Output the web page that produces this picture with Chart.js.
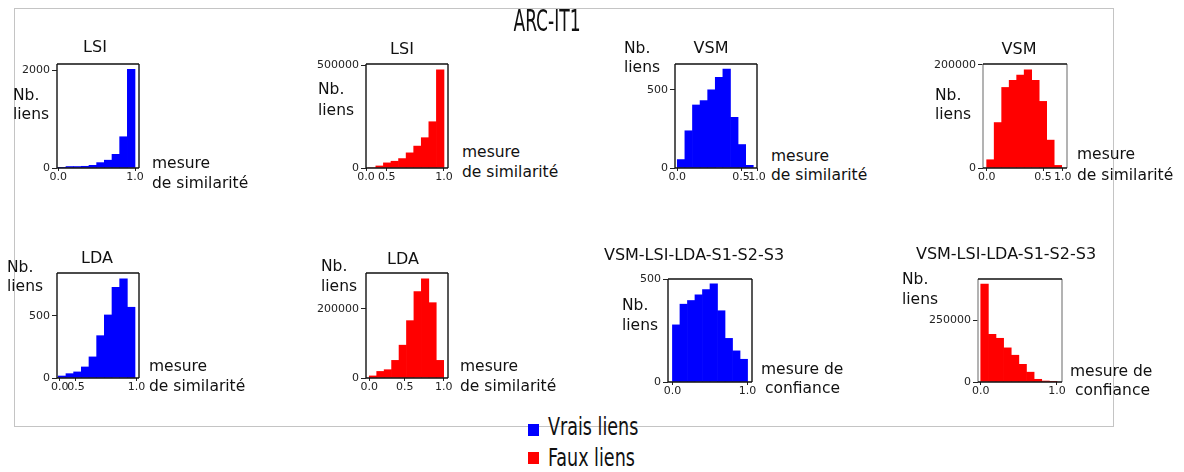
<!DOCTYPE html>
<html>
<head>
<meta charset="utf-8">
<script src="https://cdn.jsdelivr.net/npm/chart.js@4/dist/chart.umd.min.js"></script>
<style>
  body { margin: 0; background: #fff; width: 1184px; height: 472px; position: relative; overflow: hidden; font-family: 'DejaVu Sans', sans-serif; }
  canvas { position: absolute; }
  .t { position: absolute; white-space: nowrap; line-height: 1; color: #111; z-index: 2; }
  .frame { position: absolute; left: 14px; top: 8px; width: 1098px; height: 417px; border: 1px solid #c4c4c4; }
  .narrow { font-family: 'DejaVu Sans Condensed', 'DejaVu Sans', sans-serif; font-stretch: condensed; }
  .sq { position: absolute; width: 11px; height: 12px; }
</style>
</head>
<body>
<div class="frame"></div>

<script>
// centres des classes (largeur 0.1)
const bins = [0.05, 0.15, 0.25, 0.35, 0.45, 0.55, 0.65, 0.75, 0.85, 0.95];

// Nb. liens par classe
const lsiVrais = [5, 30, 30, 35, 55, 110, 160, 280, 640, 2020];
const lsiFaux = [0, 10000, 25000, 33000, 46000, 74000, 107000, 148000, 226000, 480000];
const vsmVrais = [54, 238, 403, 431, 500, 579, 633, 324, 150, 17];
const vsmFaux = [16000, 88000, 156000, 170000, 180000, 190000, 170000, 129000, 54000, 5000];
const ldaVrais = [16, 35, 49, 89, 170, 341, 508, 730, 800, 570];
const ldaFaux = [6000, 19000, 24000, 51000, 95000, 166000, 250000, 287000, 218000, 51000];
const combVrais = [279, 380, 398, 426, 451, 479, 348, 213, 152, 111];
const combFaux = [399000, 194000, 178000, 139000, 109000, 72000, 40000, 11000, 4000, 500];

// graduations
const yTicksLsiVrais = [0, 2000];
const yTicksLsiFaux = [0, 500000];
const yTicksVsmVrais = [0, 500];
const yTicksVsmFaux = [0, 200000];
const yTicksLdaVrais = [0, 500];
const yTicksLdaFaux = [0, 200000];
const yTicksCombVrais = [0, 500];
const yTicksCombFaux = [0, 250000];
const xLabels3 = ['0.0', '0.5', '1.0'];
const xLabels2 = ['0.0', '1.0'];

const BLUE = '#0000ff', RED = '#ff0000';

const boxBorder = {
  id: 'boxBorder',
  afterDatasetsDraw(chart, args, opts) {
    const { ctx, chartArea: a } = chart;
    ctx.save();
    ctx.lineWidth = 1.5;
    ctx.strokeStyle = opts.side || '#222';
    ctx.beginPath();
    ctx.moveTo(a.left, a.top); ctx.lineTo(a.left, a.bottom);
    ctx.moveTo(a.right, a.top); ctx.lineTo(a.right, a.bottom);
    ctx.stroke();
    ctx.strokeStyle = '#111';
    ctx.beginPath();
    ctx.moveTo(a.left, a.top); ctx.lineTo(a.right, a.top);
    ctx.moveTo(a.left, a.bottom); ctx.lineTo(a.right, a.bottom);
    ctx.stroke();
    ctx.restore();
  }
};

// box = [gauche, haut, droite, bas] de la zone de tracé
const panels = [
  { data: lsiVrais, color: BLUE, box: [57, 64, 139, 168], xMin: -0.017, xMax: 1.052, yMax: 2130, yTicks: yTicksLsiVrais, xTicks: [0, 1], xLabels: xLabels2 },
  { data: lsiFaux, color: RED, box: [366, 64, 448, 168], xMin: -0.03, xMax: 1.053, yMax: 508000, yTicks: yTicksLsiFaux, xTicks: [-0.03, 0.243, 1], xLabels: xLabels3 },
  { data: vsmVrais, color: BLUE, box: [675, 64, 757, 168], xMin: -0.03, xMax: 1.049, yMax: 665, yTicks: yTicksVsmVrais, xTicks: [0, 0.84, 1.049], xLabels: xLabels3 },
  { data: vsmFaux, color: RED, box: [983, 64, 1067, 168], xMin: -0.049, xMax: 1.071, yMax: 201400, yTicks: yTicksVsmFaux, xTicks: [0, 0.752, 1.013], xLabels: xLabels3, side: '#9a9a9a' },
  { data: ldaVrais, color: BLUE, box: [57, 273, 139, 378], xMin: -0.017, xMax: 1.052, yMax: 846, yTicks: yTicksLdaVrais, xTicks: [0.02, 0.23, 1.02], xLabels: xLabels3 },
  { data: ldaFaux, color: RED, box: [366, 273, 448, 378], xMin: -0.044, xMax: 1.058, yMax: 303900, yTicks: yTicksLdaFaux, xTicks: [0, 0.478, 1], xLabels: xLabels3 },
  { data: combVrais, color: BLUE, box: [668, 279, 752, 382], xMin: -0.059, xMax: 1.059, yMax: 503, yTicks: yTicksCombVrais, xTicks: [0, 1], xLabels: xLabels2 },
  { data: combFaux, color: RED, box: [978, 279, 1062, 382], xMin: -0.036, xMax: 1.066, yMax: 419400, yTicks: yTicksCombFaux, xTicks: [0, 1], xLabels: xLabels2, side: '#9a9a9a' }
];

const YW = 52, XH = 22, PT = 10, PR = 14;

Chart.defaults.font.family = "'DejaVu Sans', sans-serif";
Chart.defaults.font.size = 11;
Chart.defaults.color = '#222';

panels.forEach((p) => {
  const [l, t, r, b] = p.box;
  const cv = document.createElement('canvas');
  cv.width = YW + (r - l) + PR;
  cv.height = PT + (b - t) + XH;
  cv.style.left = (l - YW) + 'px';
  cv.style.top = (t - PT) + 'px';
  document.body.appendChild(cv);

  new Chart(cv, {
    type: 'bar',
    data: {
      datasets: [{
        data: bins.map((x, i) => ({ x: x, y: p.data[i] })),
        backgroundColor: p.color,
        borderWidth: 0,
        barPercentage: 1,
        categoryPercentage: 1
      }]
    },
    options: {
      responsive: false,
      animation: false,
      layout: { padding: { left: 0, top: PT, right: PR, bottom: 0 } },
      plugins: { legend: { display: false }, tooltip: { enabled: false }, boxBorder: { side: p.side } },
      scales: {
        x: {
          type: 'linear',
          min: p.xMin,
          max: p.xMax,
          offset: false,
          border: { display: false },
          grid: { offset: false, drawOnChartArea: false, drawTicks: true, tickLength: 3, tickColor: '#222' },
          ticks: { autoSkip: false, maxRotation: 0, padding: 0, callback: (v, i) => p.xLabels[i] },
          afterBuildTicks: (s) => { s.ticks = p.xTicks.map(v => ({ value: v })); },
          afterFit: (s) => { s.height = XH; }
        },
        y: {
          min: 0,
          max: p.yMax,
          border: { display: false },
          grid: { drawOnChartArea: false, drawTicks: true, tickLength: 5, tickColor: '#222' },
          ticks: { padding: 2, callback: (v) => String(v) },
          afterBuildTicks: (s) => { s.ticks = p.yTicks.map(v => ({ value: v })); },
          afterFit: (s) => { s.width = YW; }
        }
      }
    },
    plugins: [boxBorder]
  });
});

// textes de la figure : [texte, x, y (centre), taille, centré ?]
const labels = [
  ['LSI', 95, 47, 16, true], ['LSI', 402, 49, 16, true],
  ['VSM', 711, 48, 16, true], ['VSM', 1019, 49, 16, true],
  ['LDA', 97, 258, 16, true], ['LDA', 403, 259, 16, true],
  ['VSM-LSI-LDA-S1-S2-S3', 694, 255, 16, true], ['VSM-LSI-LDA-S1-S2-S3', 1006, 254, 16, true],

  ['Nb.', 13, 96, 15.5], ['liens', 13, 115, 15.5], ['mesure', 152, 164, 15.5], ['de similarité', 152, 184, 15.5],
  ['Nb.', 318, 90, 15.5], ['liens', 318, 111, 15.5], ['mesure', 462, 153, 15.5], ['de similarité', 462, 173, 15.5],
  ['Nb.', 624, 49, 15.5], ['liens', 624, 68, 15.5], ['mesure', 771, 157, 15.5], ['de similarité', 771, 176, 15.5],
  ['Nb.', 935, 96, 15.5], ['liens', 935, 115, 15.5], ['mesure', 1077, 155, 15.5], ['de similarité', 1077, 176, 15.5],
  ['Nb.', 7, 268, 15.5], ['liens', 7, 287, 15.5], ['mesure', 149, 367, 15.5], ['de similarité', 149, 387, 15.5],
  ['Nb.', 321, 267, 15.5], ['liens', 321, 287, 15.5], ['mesure', 460, 367, 15.5], ['de similarité', 460, 387, 15.5],
  ['Nb.', 622, 306, 15.5], ['liens', 622, 326, 15.5], ['mesure de', 761, 370, 15.5], ['confiance', 765, 389, 15.5],
  ['Nb.', 902, 280, 15.5], ['liens', 902, 300, 15.5], ['mesure de', 1070, 372, 15.5], ['confiance', 1075, 391, 15.5]
];

labels.forEach(([txt, x, y, size, centred]) => {
  const d = document.createElement('div');
  d.className = 't';
  d.textContent = txt;
  d.style.left = x + 'px';
  d.style.top = y + 'px';
  d.style.fontSize = size + 'px';
  d.style.transform = centred ? 'translate(-50%, -50%)' : 'translate(0, -50%)';
  document.body.appendChild(d);
});

// titre général
const title = document.createElement('div');
title.className = 't narrow';
title.textContent = 'ARC-IT1';
title.style.cssText += 'left:547px;top:21px;font-size:19px;transform:translate(-50%,-50%) scaleY(1.55);';
document.body.appendChild(title);

// légende
const legend = [['Vrais liens', BLUE, 424, 427], ['Faux liens', RED, 452, 458]];
legend.forEach(([txt, col, sy, ty]) => {
  const s = document.createElement('div');
  s.className = 'sq';
  s.style.left = '528px';
  s.style.top = sy + 'px';
  s.style.background = col;
  document.body.appendChild(s);
  const d = document.createElement('div');
  d.className = 't narrow';
  d.textContent = txt;
  d.style.cssText += 'left:548px;top:' + ty + 'px;font-size:19.5px;transform:translate(0,-50%) scaleY(1.25);transform-origin:left center;';
  document.body.appendChild(d);
});
</script>
</body>
</html>
